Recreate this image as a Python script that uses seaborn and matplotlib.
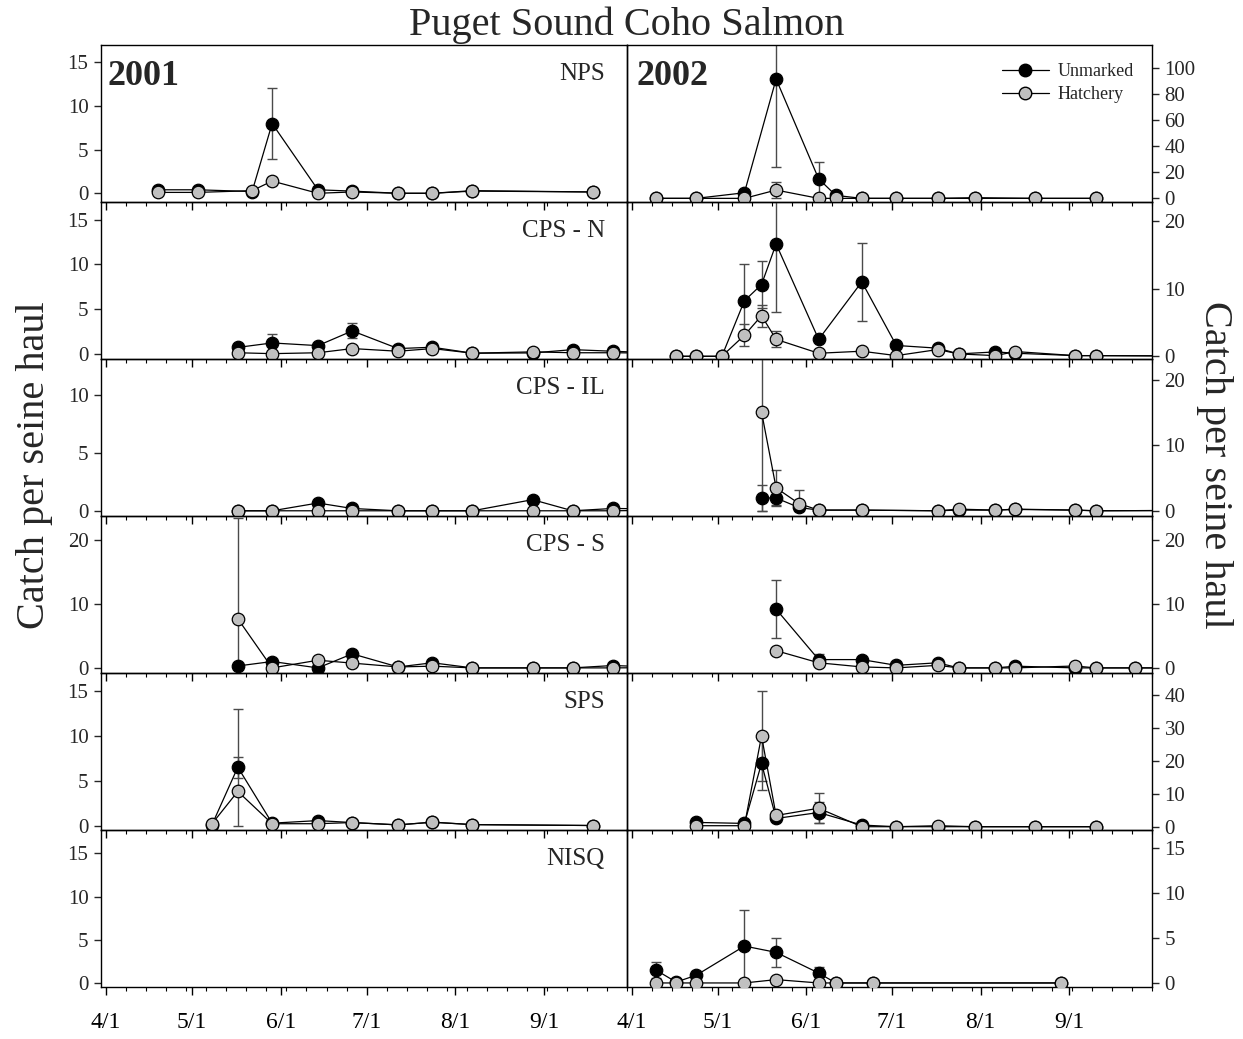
import numpy as np
import pandas as pd
import matplotlib
matplotlib.use('Agg')
import matplotlib.pyplot as plt
import seaborn as sns
from matplotlib.lines import Line2D

sns.set_theme(style='ticks')
plt.rcParams['font.family'] = ['Liberation Serif', 'DejaVu Serif']

# ---------------- data (x = days since April 1) ----------------
regions = ["NPS", "CPS - N", "CPS - IL", "CPS - S", "SPS", "NISQ"]
years = ["2001", "2002"]
month_ticks = [0, 30, 61, 91, 122, 153]
month_labels = ["4/1", "5/1", "6/1", "7/1", "8/1", "9/1"]

# 2001
nps01_x = [18, 32, 51, 58, 74, 86, 102, 114, 128, 170]
nps01_u = [0.4, 0.4, 0.2, 8.0, 0.4, 0.25, 0.0, 0.0, 0.3, 0.15]
nps01_use = [0, 0, 0, 4.1, 0, 0, 0, 0, 0, 0]
nps01_h = [0.1, 0.1, 0.3, 1.4, 0.0, 0.15, 0.0, 0.0, 0.25, 0.15]
nps01_hse = [0, 0, 0, 0.5, 0, 0, 0, 0, 0, 0]

cpsn01_x = [46, 58, 74, 86, 102, 114, 128, 149, 163, 177, 195]
cpsn01_u = [0.7, 1.2, 0.9, 2.55, 0.57, 0.72, 0.05, 0.08, 0.45, 0.27, 0.05]
cpsn01_use = [0.35, 1.0, 0, 0.85, 0, 0, 0, 0, 0, 0, 0]
cpsn01_h = [0.1, 0.0, 0.1, 0.57, 0.27, 0.57, 0.05, 0.2, 0.1, 0.1, 0.05]
cpsn01_hse = [0, 0, 0, 0, 0, 0, 0, 0, 0, 0, 0]

cpsil01_x = [46, 58, 74, 86, 102, 114, 128, 149, 163, 177, 195]
cpsil01_u = [0.0, 0.0, 0.67, 0.2, 0.0, 0.0, 0.0, 0.96, 0.0, 0.2, 0.15]
cpsil01_use = [0, 0, 0, 0, 0, 0, 0, 0, 0, 0, 0]
cpsil01_h = [0, 0, 0, 0, 0, 0, 0, 0, 0, 0, 0.05]
cpsil01_hse = [0, 0, 0, 0, 0, 0, 0, 0, 0, 0, 0]

cpss01_x = [46, 58, 74, 86, 102, 114, 128, 149, 163, 177, 195]
cpss01_u = [0.3, 1.0, 0.0, 2.2, 0.15, 0.8, 0, 0, 0, 0.37, 0.1]
cpss01_use = [0, 0, 0, 0, 0, 0, 0, 0, 0, 0, 0]
cpss01_h = [7.7, 0.0, 1.2, 0.75, 0.15, 0.27, 0, 0, 0, 0, 0.05]
cpss01_hse = [15.8, 0, 0, 0, 0, 0, 0, 0, 0, 0, 0]

sps01_x = [37, 46, 58, 74, 86, 102, 114, 128, 170]
sps01_u = [0.1, 6.5, 0.26, 0.55, 0.33, 0.07, 0.37, 0.1, 0.0]
sps01_use = [0, 1.15, 0, 0, 0, 0, 0, 0, 0]
sps01_h = [0.2, 3.8, 0.2, 0.2, 0.33, 0.07, 0.37, 0.1, 0.0]
sps01_hse = [0, 9.2, 0, 0, 0, 0, 0, 0, 0]

nisq01_x, nisq01_u, nisq01_use, nisq01_h, nisq01_hse = [], [], [], [], []

# 2002
nps02_x = [8.5, 22.4, 39.3, 50.4, 65.3, 71.3, 80.4, 92.5, 107.0, 120.1, 141.1, 162.3]
nps02_u = [0, 0, 4.3, 91.8, 15.0, 2.3, 0, 0, 0, 0.5, 0, 0]
nps02_use = [0, 0, 0, 68, 12.8, 0, 0, 0, 0, 0, 0, 0]
nps02_h = [0, 0, 0, 6.4, 0, 0, 0, 0, 0, 0, 0, 0]
nps02_hse = [0, 0, 0, 6.0, 0, 0, 0, 0, 0, 0, 0, 0]

cpsn02_x = [15.4, 22.4, 31.4, 39.3, 45.3, 50.4, 65.3, 80.4, 92.5, 107.0, 114.3, 127.2, 134.2, 155.1, 162.3, 195]
cpsn02_u = [0, 0, 0, 8.2, 10.6, 16.6, 2.5, 11.0, 1.6, 1.2, 0.35, 0.65, 0.45, 0.1, 0.1, 0.05]
cpsn02_use = [0, 0, 0, 5.5, 3.5, 10.0, 0, 5.8, 0, 0, 0, 0, 0, 0, 0, 0]
cpsn02_h = [0, 0, 0, 3.1, 6.0, 2.5, 0.45, 0.75, 0.1, 1.0, 0.35, 0.1, 0.7, 0.1, 0.1, 0.05]
cpsn02_hse = [0, 0, 0, 1.6, 1.6, 1.2, 0, 0, 0, 0, 0, 0, 0, 0, 0, 0]

cpsil02_x = [45.3, 50.4, 58.4, 65.3, 80.4, 107.0, 114.3, 127.2, 134.2, 155.1, 162.3, 195]
cpsil02_u = [1.95, 1.95, 0.5, 0.1, 0.1, 0, 0.1, 0.1, 0.2, 0.1, 0, 0.05]
cpsil02_use = [2.0, 1.05, 0, 0, 0, 0, 0, 0, 0, 0, 0, 0]
cpsil02_h = [15.1, 3.5, 1.1, 0.1, 0.1, 0, 0.25, 0.1, 0.25, 0.1, 0, 0.05]
cpsil02_hse = [16.0, 2.7, 2.1, 0, 0, 0, 0, 0, 0, 0, 0, 0]

cpss02_x = [50.4, 65.3, 80.4, 92.5, 107.0, 114.3, 127.2, 134.2, 155.1, 162.3, 176.2, 195]
cpss02_u = [9.2, 1.3, 1.3, 0.4, 0.8, 0, 0, 0.27, 0, 0, 0, 0]
cpss02_use = [4.5, 0.9, 0, 0, 0, 0, 0, 0, 0, 0, 0, 0]
cpss02_h = [2.7, 0.8, 0.15, 0, 0.4, 0, 0, 0, 0.3, 0, 0, 0]
cpss02_hse = [0, 0, 0, 0, 0, 0, 0, 0, 0, 0, 0, 0]

sps02_x = [22.4, 39.3, 45.3, 50.4, 65.3, 80.4, 92.5, 107.0, 120.1, 141.1, 162.3]
sps02_u = [1.3, 1.0, 19.2, 2.5, 4.3, 0.5, 0, 0, 0, 0, 0]
sps02_use = [0, 0, 8.0, 0, 3.3, 0, 0, 0, 0, 0, 0]
sps02_h = [0.3, 0.3, 27.5, 3.4, 5.6, 0, 0, 0.3, 0, 0, 0]
sps02_hse = [0, 0, 13.7, 0, 4.6, 0, 0, 0, 0, 0, 0]

nisq02_x = [8.5, 15.4, 22.4, 39.3, 50.4, 65.3, 71.3, 84.3, 150.2]
nisq02_u = [1.4, 0.1, 0.85, 4.1, 3.4, 1.1, 0, 0, 0]
nisq02_use = [0.9, 0, 0.45, 4.0, 1.65, 0.7, 0, 0, 0]
nisq02_h = [0, 0, 0, 0, 0.37, 0, 0, 0, 0]
nisq02_hse = [0, 0, 0, 0, 0, 0, 0, 0, 0]

panels = {
    (0, 0): (nps01_x, nps01_u, nps01_use, nps01_h, nps01_hse),
    (1, 0): (cpsn01_x, cpsn01_u, cpsn01_use, cpsn01_h, cpsn01_hse),
    (2, 0): (cpsil01_x, cpsil01_u, cpsil01_use, cpsil01_h, cpsil01_hse),
    (3, 0): (cpss01_x, cpss01_u, cpss01_use, cpss01_h, cpss01_hse),
    (4, 0): (sps01_x, sps01_u, sps01_use, sps01_h, sps01_hse),
    (5, 0): (nisq01_x, nisq01_u, nisq01_use, nisq01_h, nisq01_hse),
    (0, 1): (nps02_x, nps02_u, nps02_use, nps02_h, nps02_hse),
    (1, 1): (cpsn02_x, cpsn02_u, cpsn02_use, cpsn02_h, cpsn02_hse),
    (2, 1): (cpsil02_x, cpsil02_u, cpsil02_use, cpsil02_h, cpsil02_hse),
    (3, 1): (cpss02_x, cpss02_u, cpss02_use, cpss02_h, cpss02_hse),
    (4, 1): (sps02_x, sps02_u, sps02_use, sps02_h, sps02_hse),
    (5, 1): (nisq02_x, nisq02_u, nisq02_use, nisq02_h, nisq02_hse),
}

ylims = {
    (0, 0): (-1.0, 17.0), (0, 1): (-2.8, 118),
    (1, 0): (-0.6, 17.0), (1, 1): (-0.4, 22.8),
    (2, 0): (-0.45, 13.1), (2, 1): (-0.8, 23.2),
    (3, 0): (-0.8, 23.8), (3, 1): (-0.8, 23.8),
    (4, 0): (-0.5, 17.0), (4, 1): (-1.0, 46.6),
    (5, 0): (-0.47, 17.7), (5, 1): (-0.45, 17.0),
}
yticks = {
    (0, 0): [0, 5, 10, 15], (0, 1): [0, 20, 40, 60, 80, 100],
    (1, 0): [0, 5, 10, 15], (1, 1): [0, 10, 20],
    (2, 0): [0, 5, 10], (2, 1): [0, 10, 20],
    (3, 0): [0, 10, 20], (3, 1): [0, 10, 20],
    (4, 0): [0, 5, 10, 15], (4, 1): [0, 10, 20, 30, 40],
    (5, 0): [0, 5, 10, 15], (5, 1): [0, 5, 10, 15],
}

# ---------------- layout ----------------
W, H = 1243, 1039
fig = plt.figure(figsize=(W / 100, H / 100), dpi=100, facecolor='white')
left, mid, right = 101 / W, 627 / W, 1152 / W
top, bottom = 1 - 45 / H, 1 - 987 / H
h = (top - bottom) / 6
xlim = (-1.8, 182)
weekly = np.arange(0, 183, 7)

GRAY = '#c0c0c0'
ECOL = '#4a4a4a'

axes = {}
for r in range(6):
    for c in range(2):
        x0 = left if c == 0 else mid
        w = (mid - left) if c == 0 else (right - mid)
        ax = fig.add_axes([x0, top - (r + 1) * h, w, h])
        ax.patch.set_visible(False)
        axes[(r, c)] = ax

for (r, c), ax in axes.items():
    xs, u, use, hh, hse = panels[(r, c)]
    if len(xs):
        u = np.array(u); use = np.array(use)
        hh = np.array(hh); hse = np.array(hse)
        ax.errorbar(xs, u, yerr=[np.minimum(use, u), use], fmt='none', ecolor=ECOL,
                    elinewidth=1.0, capsize=3.5, capthick=1.0, zorder=2)
        ax.errorbar(xs, hh, yerr=[np.minimum(hse, hh), hse], fmt='none', ecolor=ECOL,
                    elinewidth=1.0, capsize=3.5, capthick=1.0, zorder=2)
        sns.lineplot(x=xs, y=u, ax=ax, color='black', lw=0.9, marker='o', markersize=9,
                     markerfacecolor='black', markeredgecolor='black', markeredgewidth=0.9,
                     errorbar=None, legend=False, zorder=3)
        sns.lineplot(x=xs, y=hh, ax=ax, color='black', lw=0.9, marker='o', markersize=9,
                     markerfacecolor=GRAY, markeredgecolor='black', markeredgewidth=0.9,
                     errorbar=None, legend=False, zorder=4)
    ax.set_xlim(*xlim)
    ax.set_ylim(*ylims[(r, c)])
    ax.set_xticks(month_ticks)
    ax.set_xticks(weekly, minor=True)
    ax.set_yticks(yticks[(r, c)])
    ax.set_xlabel('')
    ax.set_ylabel('')
    for s in ax.spines.values():
        s.set_visible(True)
        s.set_linewidth(1.0)
        s.set_color('black')
    ax.tick_params(axis='x', which='major', direction='out', length=6, width=1.0,
                   labelsize=17, pad=12, colors='black', top=False, bottom=True)
    ax.tick_params(axis='x', which='minor', direction='out', length=3, width=0.8,
                   top=False, bottom=True, colors='black')
    if r == 5:
        ax.set_xticklabels(month_labels)
    else:
        ax.set_xticklabels([])
    if c == 0:
        ax.tick_params(axis='y', direction='out', length=5, width=1.0, labelsize=15,
                       left=True, right=False, labelleft=True, labelright=False, pad=4)
        ax.text(0.958, 0.815, regions[r], transform=ax.transAxes, ha='right', va='center',
                fontsize=18)
    else:
        ax.tick_params(axis='y', direction='out', length=5, width=1.0, labelsize=15,
                       left=False, right=True, labelleft=False, labelright=True, pad=4)
    if r == 0:
        ax.text(0.012 if c == 0 else 0.019, 0.8, years[c], transform=ax.transAxes,
                ha='left', va='center', fontsize=26, fontweight='bold')

handles = [
    Line2D([], [], color='black', lw=0.9, marker='o', markersize=9,
           markerfacecolor='black', markeredgecolor='black'),
    Line2D([], [], color='black', lw=0.9, marker='o', markersize=9,
           markerfacecolor=GRAY, markeredgecolor='black'),
]
axes[(0, 1)].legend(handles, ['Unmarked', 'Hatchery'], loc='upper right',
                    bbox_to_anchor=(0.99, 0.965), frameon=False, fontsize=13,
                    handlelength=2.6, handletextpad=0.5, labelspacing=0.35, borderpad=0.2)

fig.text(627 / W, 1 - 25 / H, 'Puget Sound Coho Salmon', ha='center', va='center', fontsize=29)
fig.text(35 / W, 1 - 465 / H, 'Catch per seine haul', ha='center', va='center',
         rotation=90, fontsize=29)
fig.text(1215 / W, 1 - 465 / H, 'Catch per seine haul', ha='center', va='center',
         rotation=270, fontsize=29)

fig.savefig('out.png', dpi=100, facecolor='white')
